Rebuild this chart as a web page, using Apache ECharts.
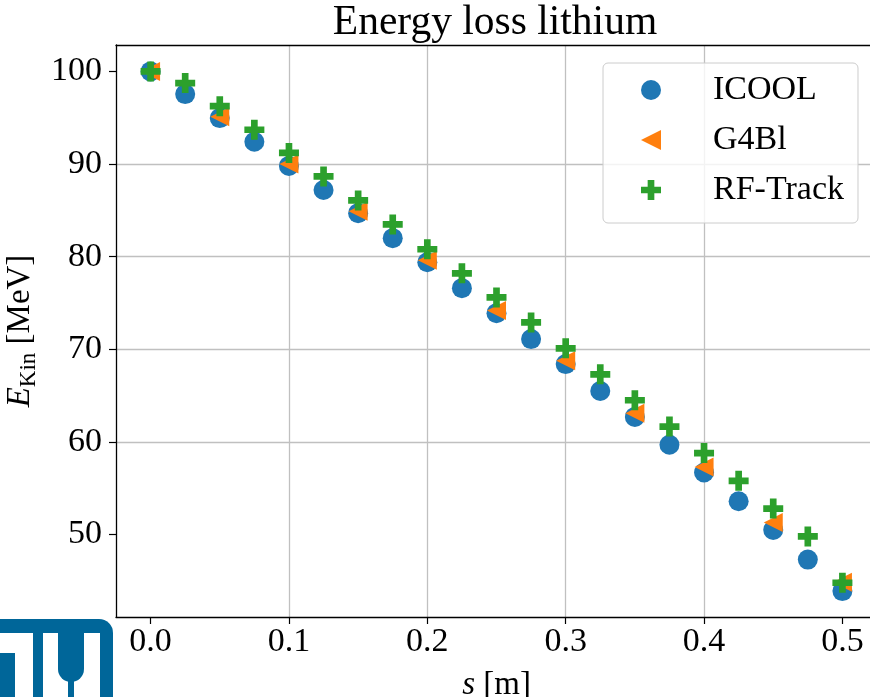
<!DOCTYPE html>
<html>
<head>
<meta charset="utf-8">
<title>Energy loss lithium</title>
<script src="https://cdn.jsdelivr.net/npm/echarts@6/dist/echarts.min.js"></script>
<style>
    html, body { margin: 0; padding: 0; background: #fff; overflow: hidden; }
    #main { width: 870px; height: 697px; }
</style>
</head>
<body>
<div id="main"></div>
<script>
// s positions [m]
var sFine = [0, 0.025, 0.05, 0.075, 0.1, 0.125, 0.15, 0.175, 0.2, 0.225, 0.25,
    0.275, 0.3, 0.325, 0.35, 0.375, 0.4, 0.425, 0.45, 0.475, 0.5];
var sCoarse = [0, 0.05, 0.1, 0.15, 0.2, 0.25, 0.3, 0.35, 0.4, 0.45, 0.5];

// kinetic energy [MeV]
var icool = [100, 97.55, 94.96, 92.4, 89.8, 87.2, 84.7, 82.0, 79.4, 76.6, 73.9,
    71.1, 68.4, 65.5, 62.7, 59.7, 56.7, 53.6, 50.5, 47.3, 43.9];
var g4bl = [100, 95.1, 90.0, 84.9, 79.6, 74.2, 68.75, 63.1, 57.3, 51.3, 44.85];
var rfTrack = [100, 98.74, 96.25, 93.7, 91.2, 88.66, 86.07, 83.48, 80.8, 78.2, 75.6,
    72.9, 70.1, 67.3, 64.5, 61.66, 58.8, 55.8, 52.8, 49.8, 44.8];

// tick labels
var xTicks = [0, 0.1, 0.2, 0.3, 0.4, 0.5];
var yTicks = [50, 60, 70, 80, 90, 100];

var FONT = 'Liberation Serif';
var triangleLeft = 'path://M0,10 L20,0 L20,20 Z';
var plusFilled = 'path://M2,0 H4 V2 H6 V4 H4 V6 H2 V4 H0 V2 H2 Z';

function pairs(xs, ys) {
    var out = [];
    xs.forEach(function (x, i) {
        out.push([x, ys[i]]);
    });
    return out;
}

var myChart = echarts.init(document.getElementById('main'), null, {renderer: 'canvas'});

var options = {
    animation: false,
    backgroundColor: '#fff',
    textStyle: { fontFamily: FONT },
    title: {
        text: 'Energy loss lithium',
        left: 490,
        textAlign: 'center',
        top: -3,
        textStyle: { fontFamily: FONT, fontSize: 41.5, fontWeight: 'normal', color: '#000' }
    },
    grid: {
        left: 116,
        top: 45,
        width: 761,
        height: 572,
        outerBoundsMode: 'none',
        containLabel: false,
        show: false
    },
    legend: {
        orient: 'vertical',
        left: 603,
        top: 63,
        padding: [10, 14, 16, 38],
        itemGap: 16,
        itemWidth: 20,
        itemHeight: 20,
        backgroundColor: 'rgba(255,255,255,0.8)',
        borderColor: '#cccccc',
        borderWidth: 1,
        borderRadius: 5,
        textStyle: {
            fontFamily: FONT,
            fontSize: 34,
            color: '#000',
            lineHeight: 34,
            padding: [0, 0, 0, 47]
        },
        data: [
            {name: 'ICOOL', icon: 'circle'},
            {name: 'G4Bl', icon: triangleLeft},
            {name: 'RF-Track', icon: plusFilled}
        ]
    },
    xAxis: [
        {
            type: 'value',
            min: -0.025,
            max: 0.525,
            name: '{i|s} [m]',
            nameLocation: 'middle',
            nameGap: 52,
            nameTextStyle: {
                fontFamily: FONT, fontSize: 33, color: '#000',
                rich: { i: { fontFamily: FONT, fontSize: 33, fontStyle: 'italic' } }
            },
            axisLine: { show: true, onZero: false, lineStyle: { color: '#000', width: 1.3 } },
            axisTick: { show: true, inside: false, length: 7, customValues: xTicks, lineStyle: { color: '#000', width: 1.2 } },
            axisLabel: {
                customValues: xTicks,
                margin: 8,
                fontFamily: FONT, fontSize: 34, color: '#000',
                formatter: function (v) { return v.toFixed(1); }
            },
            splitLine: { show: true, showMinLine: false, showMaxLine: false, lineStyle: { color: '#c0c0c0', width: 1.3 } }
        },
        {
            // top spine only
            type: 'value',
            position: 'top',
            min: -0.025,
            max: 0.525,
            axisLine: { show: true, onZero: false, lineStyle: { color: '#000', width: 1.3 } },
            axisTick: { show: false },
            axisLabel: { show: false },
            splitLine: { show: false }
        }
    ],
    yAxis: {
        type: 'value',
        min: 41.1,
        max: 102.85,
        name: '{i|E}{sub|Kin} [MeV]',
        nameLocation: 'middle',
        nameRotate: 90,
        nameGap: 70,
        nameTextStyle: {
            fontFamily: FONT, fontSize: 33, color: '#000', lineHeight: 40,
            rich: {
                i: { fontFamily: FONT, fontSize: 33, fontStyle: 'italic', lineHeight: 40 },
                sub: { fontFamily: FONT, fontSize: 23, lineHeight: 23, verticalAlign: 'bottom' }
            }
        },
        axisLine: { show: true, onZero: false, lineStyle: { color: '#000', width: 1.3 } },
        axisTick: { show: true, inside: false, length: 7, customValues: yTicks, lineStyle: { color: '#000', width: 1.2 } },
        axisLabel: {
            customValues: yTicks,
            margin: 14,
            fontFamily: FONT, fontSize: 34, color: '#000'
        },
        splitLine: { show: true, showMinLine: false, showMaxLine: false, lineStyle: { color: '#c0c0c0', width: 1.3 } }
    },
    series: [
        {
            name: 'ICOOL',
            type: 'scatter',
            symbol: 'circle',
            symbolSize: 20,
            itemStyle: { color: '#1f77b4', opacity: 1 },
            data: pairs(sFine, icool)
        },
        {
            name: 'G4Bl',
            type: 'scatter',
            symbol: triangleLeft,
            symbolSize: [19, 19],
            itemStyle: { color: '#ff7f0e', opacity: 1 },
            data: pairs(sCoarse, g4bl)
        },
        {
            name: 'RF-Track',
            type: 'scatter',
            symbol: plusFilled,
            symbolSize: 20,
            itemStyle: { color: '#2ca02c', opacity: 1 },
            data: pairs(sFine, rfTrack)
        }
    ],
    // university logo in the lower left corner
    graphic: [
        {
            type: 'group',
            left: 0,
            top: 619,
            z: 100,
            children: [
                { type: 'rect', shape: { x: 0, y: 0, width: 113, height: 80, r: [0, 14, 0, 0] }, style: { fill: '#006699' } },
                { type: 'rect', shape: { x: 0, y: 14, width: 33, height: 20 }, style: { fill: '#fff' } },
                { type: 'rect', shape: { x: 15, y: 14, width: 18, height: 66 }, style: { fill: '#fff' } },
                { type: 'rect', shape: { x: 43, y: 14, width: 57, height: 66 }, style: { fill: '#fff' } },
                { type: 'rect', shape: { x: 58, y: 14, width: 26, height: 49, r: [0, 0, 13, 13] }, style: { fill: '#006699' } },
                { type: 'rect', shape: { x: 68, y: 58, width: 6, height: 22 }, style: { fill: '#006699' } }
            ]
        }
    ]
};

myChart.setOption(options);
</script>
</body>
</html>
